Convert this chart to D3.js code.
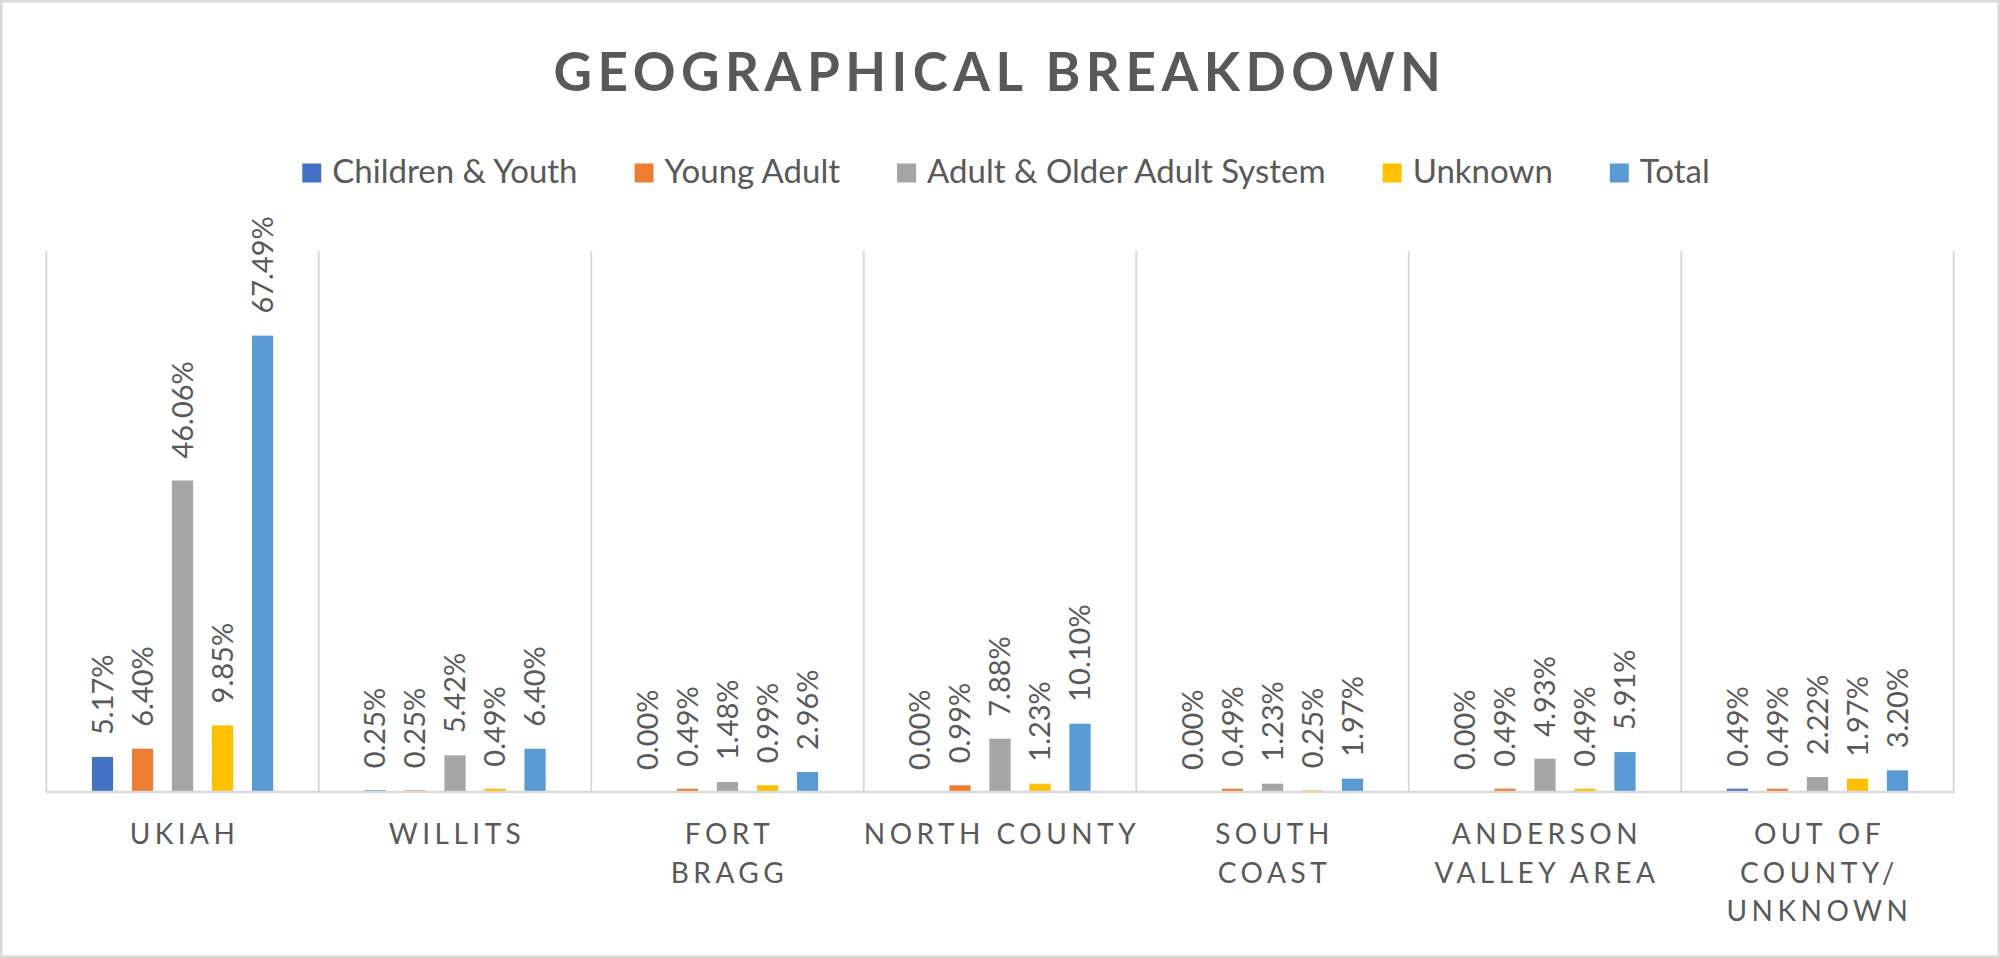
<!DOCTYPE html>
<html>
<head>
<meta charset="utf-8">
<script src="https://cdn.jsdelivr.net/npm/d3@7"></script>
<style>
  body { margin: 0; background: #fff; }
  text { font-family: Lato, "Open Sans", sans-serif; fill: #595959; }
</style>
</head>
<body>
<script>
// categories (axis tick labels, already split the way the chart wraps them)
var categories = ["Ukiah", "Willits", "Fort Bragg", "North County", "South Coast", "Anderson Valley Area", "Out of County/ Unknown"];
var tickLines = [["UKIAH"], ["WILLITS"], ["FORT", "BRAGG"], ["NORTH COUNTY"], ["SOUTH", "COAST"], ["ANDERSON", "VALLEY AREA"], ["OUT OF", "COUNTY/", "UNKNOWN"]];

// series names and values (share of clients, %)
var seriesNames = ["Children & Youth", "Young Adult", "Adult & Older Adult System", "Unknown", "Total"];
var childrenYouth = [5.17, 0.25, 0.00, 0.00, 0.00, 0.00, 0.49];
var youngAdult    = [6.40, 0.25, 0.49, 0.99, 0.49, 0.49, 0.49];
var adultOlder    = [46.06, 5.42, 1.48, 7.88, 1.23, 4.93, 2.22];
var unknown       = [9.85, 0.49, 0.99, 1.23, 0.25, 0.49, 1.97];
var total         = [67.49, 6.40, 2.96, 10.10, 1.97, 5.91, 3.20];
var seriesValues = [childrenYouth, youngAdult, adultOlder, unknown, total];
var colors = ["#4472C4", "#ED7D31", "#A5A5A5", "#FFC000", "#5B9BD5"];

window.onload = drawChart();

function drawChart(){

    var width = 2000,
        height = 958;

    var svg = d3.select("body")
        .append("svg")
        .attr("width", width)
        .attr("height", height);

    //chart area with light border
    svg.append("rect")
        .attr("x", 1.25).attr("y", 1.25)
        .attr("width", width - 2.5).attr("height", height - 2.5)
        .attr("fill", "#fff")
        .attr("stroke", "#D9D9D9")
        .attr("stroke-width", 2.5);

    //plot frame
    var left = 46.3, right = 1953.7, top = 251, bottom = 792;

    var x = d3.scaleBand()
        .domain(categories)
        .range([left, right])
        .padding(0);

    var xInner = d3.scaleBand()
        .domain(seriesNames)
        .range([0, x.bandwidth()])
        .paddingInner(0.47)
        .paddingOuter(1.14);

    var y = d3.scaleLinear()
        .domain([0, 80])
        .range([bottom, top]);

    //title
    svg.append("text")
        .attr("x", 1000)
        .attr("y", 91)
        .attr("text-anchor", "middle")
        .style("font-size", "53px")
        .style("font-weight", "bold")
        .style("letter-spacing", "5.5px")
        .text("GEOGRAPHICAL BREAKDOWN");

    //vertical gridlines between categories
    var bounds = categories.map(function(c){ return x(c); }).concat([right]);
    svg.selectAll(".grid")
        .data(bounds)
        .enter()
        .append("line")
        .attr("class", "grid")
        .attr("x1", function(d){ return d; })
        .attr("x2", function(d){ return d; })
        .attr("y1", top)
        .attr("y2", bottom)
        .attr("stroke", "#D9D9D9")
        .attr("stroke-width", 2);

    //bars
    var groups = svg.selectAll(".cat")
        .data(categories)
        .enter()
        .append("g")
        .attr("class", "cat")
        .attr("transform", function(d){ return "translate(" + x(d) + ",0)"; });

    groups.selectAll("rect")
        .data(function(d, i){
            return seriesNames.map(function(s, j){ return {s: s, j: j, v: seriesValues[j][i]}; });
        })
        .enter()
        .append("rect")
        .attr("x", function(d){ return xInner(d.s); })
        .attr("width", xInner.bandwidth())
        .attr("y", function(d){ return y(d.v); })
        .attr("height", function(d){ return bottom - y(d.v); })
        .attr("fill", function(d){ return colors[d.j]; });

    //rotated data labels
    groups.selectAll(".lbl")
        .data(function(d, i){
            return seriesNames.map(function(s, j){ return {s: s, j: j, v: seriesValues[j][i]}; });
        })
        .enter()
        .append("text")
        .attr("class", "lbl")
        .attr("transform", function(d){
            return "translate(" + (xInner(d.s) + xInner.bandwidth() / 2) + "," + (y(d.v) - 22) + ") rotate(-90)";
        })
        .attr("dy", "0.35em")
        .style("font-size", "29px")
        .text(function(d){ return d.v.toFixed(2) + "%"; });

    //category axis line
    svg.append("line")
        .attr("x1", left).attr("x2", right + 1)
        .attr("y1", bottom).attr("y2", bottom)
        .attr("stroke", "#D9D9D9")
        .attr("stroke-width", 2.5);

    //category labels
    var ticks = svg.selectAll(".tick")
        .data(categories)
        .enter()
        .append("text")
        .attr("class", "tick")
        .attr("text-anchor", "middle")
        .style("font-size", "28px")
        .style("letter-spacing", "4.5px");

    ticks.selectAll("tspan")
        .data(function(d, i){ return tickLines[i]; })
        .enter()
        .append("tspan")
        .attr("x", function(){ return x(d3.select(this.parentNode).datum()) + x.bandwidth() / 2 + 2; })
        .attr("y", function(d, k){ return 844 + k * 38.5; })
        .text(function(d){ return d; });

    //legend
    var legend = svg.append("g").attr("class", "legend");
    var items = legend.selectAll("g")
        .data(seriesNames)
        .enter()
        .append("g");

    items.append("rect")
        .attr("width", 19)
        .attr("height", 19)
        .attr("y", 163.5)
        .attr("fill", function(d, i){ return colors[i]; });

    items.append("text")
        .attr("x", 30)
        .attr("y", 182.7)
        .style("font-size", "33px")
        .text(function(d){ return d; });

    //lay out legend entries side by side, centred
    var offsets = [], pos = 0;
    items.each(function(){
        var w = d3.select(this).select("text").node().getComputedTextLength();
        offsets.push(pos);
        pos += 30 + w + 57;
    });
    var legendWidth = pos - 57;
    var start = 1006 - legendWidth / 2;
    items.attr("transform", function(d, i){ return "translate(" + (start + offsets[i]) + ",0)"; });
}
</script>
</body>
</html>
